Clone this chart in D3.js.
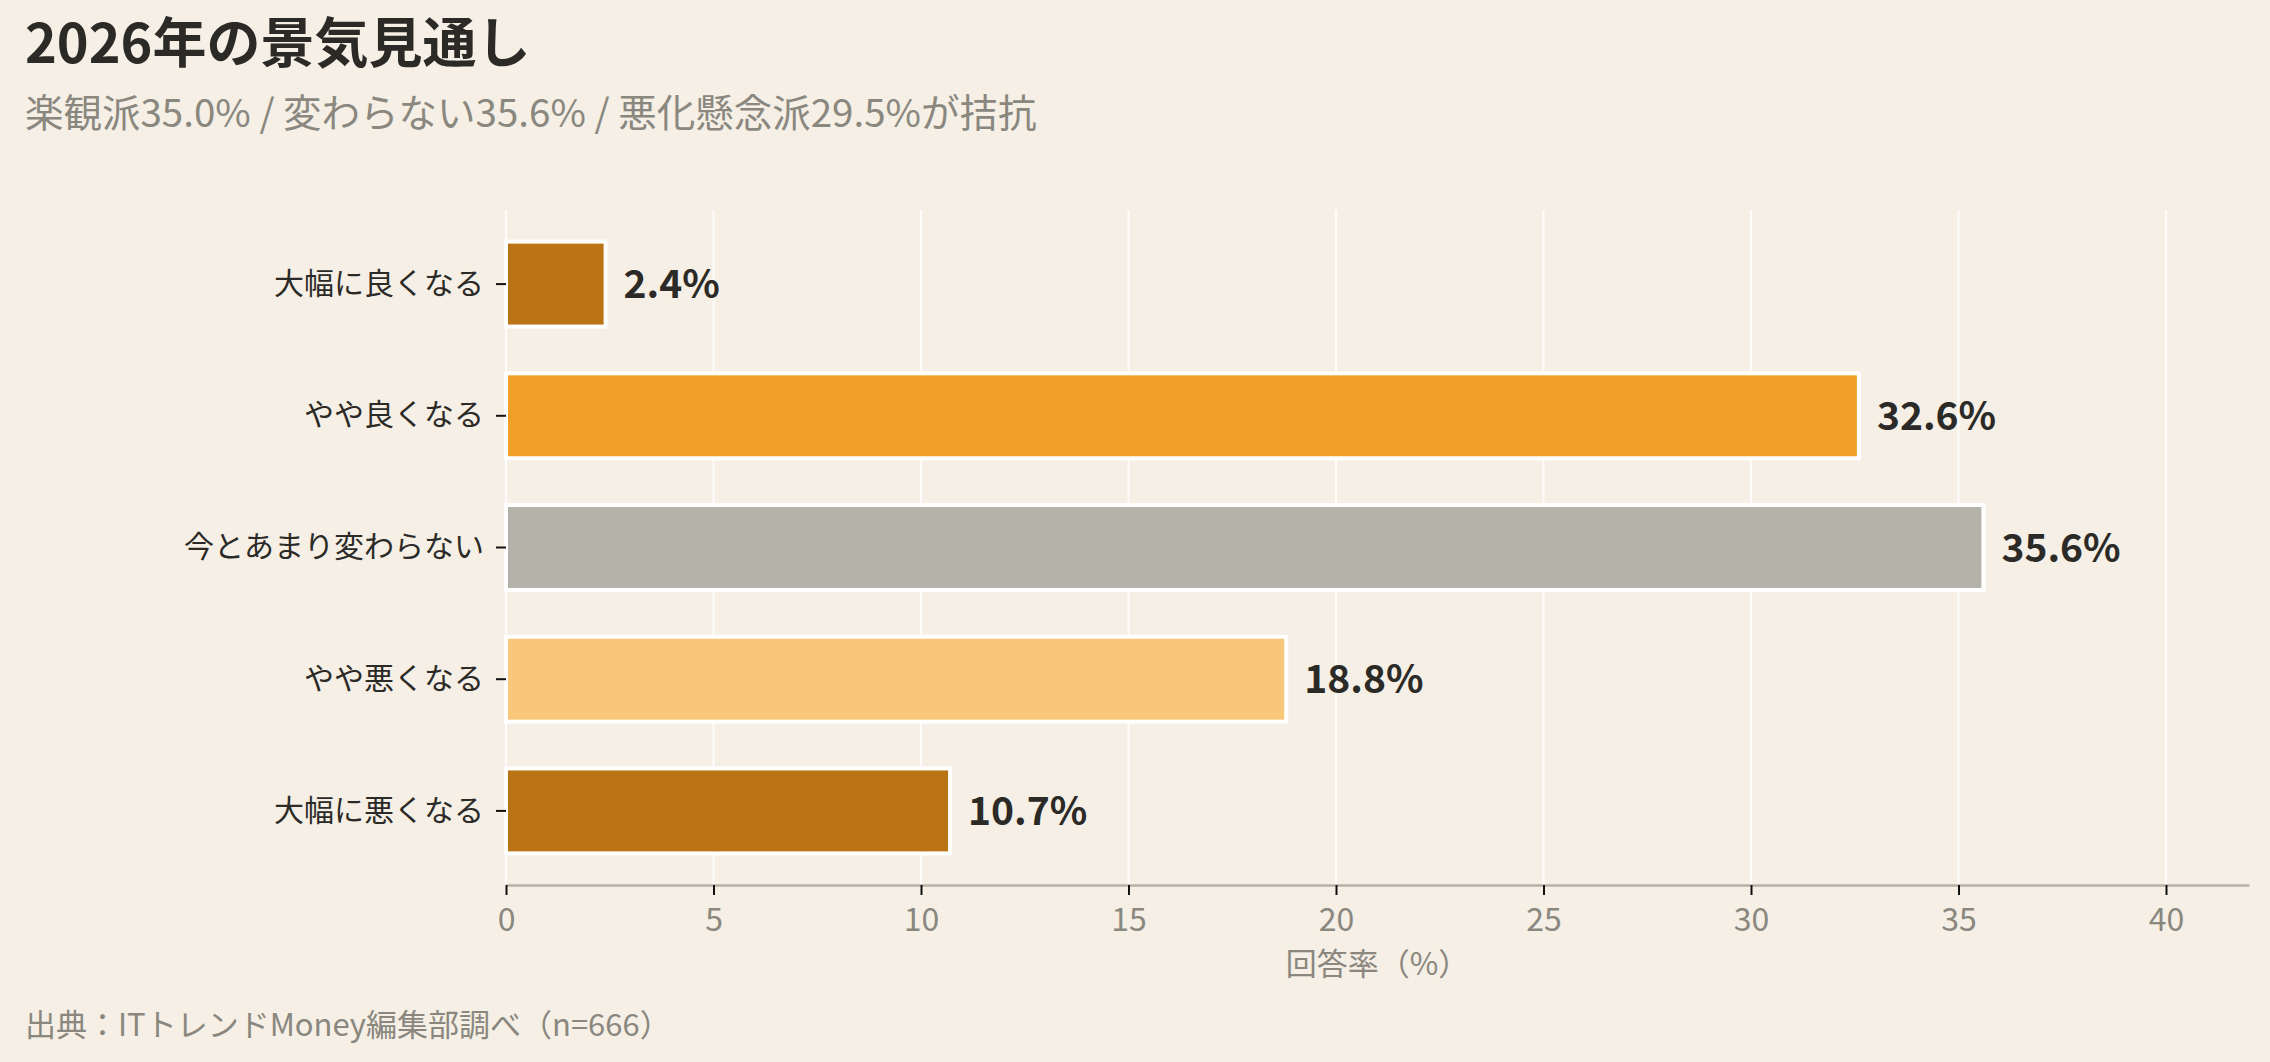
<!DOCTYPE html>
<html>
<head>
<meta charset="utf-8">
<script src="https://cdn.jsdelivr.net/npm/d3@7"></script>
<style>
	body { margin: 0; background: #f5efe5; }
	text { font-family: "Noto Sans CJK JP", "Noto Sans", sans-serif; }
</style>
</head>
<body>
<div id="visDiv"></div>
<script>
(function () {

	// data
	var categories = ['大幅に良くなる', 'やや良くなる', '今とあまり変わらない', 'やや悪くなる', '大幅に悪くなる'],
		values = [2.4, 32.6, 35.6, 18.8, 10.7],
		barColors = ['#bb7415', '#f0a028', '#b5b2aa', '#f9c77a', '#bb7415'],
		xTicks = [0, 5, 10, 15, 20, 25, 30, 35, 40];

	window.onload = function () {

		var W = 2270, H = 1062,
			margin = {top: 210, right: 21, bottom: 177, left: 506},
			w = W - margin.left - margin.right,
			h = H - margin.top - margin.bottom;

		var svg = d3.select('#visDiv')
			.append('svg')
				.attr('width', W)
				.attr('height', H)
				.style('background', '#f5efe5');

		// titles
		svg.append('text')
			.attr('x', 25).attr('y', 63)
			.attr('font-size', 54).attr('font-weight', 700)
			.attr('fill', '#2b2a27')
			.text('2026年の景気見通し');

		svg.append('text')
			.attr('x', 25).attr('y', 127)
			.attr('font-size', 38.5)
			.attr('fill', '#8a877f')
			.text('楽観派35.0% / 変わらない35.6% / 悪化懸念派29.5%が拮抗');

		var all = svg.append('g')
			.attr('transform', 'translate(' + margin.left + ',' + margin.top + ')');

		var x = d3.scaleLinear()
			.domain([0, 42])
			.range([0, w]);

		var y = d3.scaleBand()
			.domain(categories)
			.range([0, h])
			.paddingInner(0.355)
			.paddingOuter(0.24);

		// grid
		all.append('g')
			.selectAll('line')
			.data(xTicks)
			.enter().append('line')
				.attr('x1', function(d) { return x(d); })
				.attr('x2', function(d) { return x(d); })
				.attr('y1', 0)
				.attr('y2', h)
				.attr('stroke', '#ffffff')
				.attr('stroke-opacity', 0.85)
				.attr('stroke-width', 2);

		// bars
		all.append('g')
			.selectAll('rect')
			.data(values)
			.enter().append('rect')
				.attr('x', x(0))
				.attr('y', function(d, i) { return y(categories[i]); })
				.attr('width', function(d) { return x(d) - x(0); })
				.attr('height', y.bandwidth())
				.attr('fill', function(d, i) { return barColors[i]; })
				.attr('stroke', '#ffffff')
				.attr('stroke-width', 4);

		// value labels
		all.append('g')
			.selectAll('text')
			.data(values)
			.enter().append('text')
				.attr('x', function(d) { return x(d) + 18; })
				.attr('y', function(d, i) { return y(categories[i]) + y.bandwidth() / 2; })
				.attr('dy', '0.36em')
				.attr('font-size', 39)
				.attr('font-weight', 700)
				.attr('fill', '#2b2a27')
				.text(function(d) { return d.toFixed(1) + '%'; });

		// x axis
		var xAxis = all.append('g')
			.attr('transform', 'translate(0,' + h + ')')
			.call(d3.axisBottom(x).tickValues(xTicks).tickSize(10).tickPadding(13).tickSizeOuter(0));
		xAxis.select('.domain')
			.attr('stroke', '#b5b2aa')
			.attr('stroke-width', 2.5);
		xAxis.selectAll('.tick line')
			.attr('stroke', '#111')
			.attr('stroke-width', 2);
		xAxis.selectAll('.tick text')
			.attr('font-size', 32)
			.attr('fill', '#8a877f')
			.style('font-family', '"Noto Sans CJK JP", sans-serif');

		// y axis
		var yAxis = all.append('g')
			.call(d3.axisLeft(y).tickSize(10).tickPadding(12));
		yAxis.select('.domain').remove();
		yAxis.selectAll('.tick line')
			.attr('stroke', '#111')
			.attr('stroke-width', 2);
		yAxis.selectAll('.tick text')
			.attr('font-size', 30)
			.attr('fill', '#2b2a27')
			.style('font-family', '"Noto Sans CJK JP", sans-serif');

		// axis title
		svg.append('text')
			.attr('x', margin.left + w / 2)
			.attr('y', 975)
			.attr('text-anchor', 'middle')
			.attr('font-size', 31)
			.attr('fill', '#8a877f')
			.text('回答率（%）');

		// source
		svg.append('text')
			.attr('x', 25).attr('y', 1036)
			.attr('font-size', 31)
			.attr('fill', '#8a877f')
			.text('出典：ITトレンドMoney編集部調べ（n=666）');

	};
}());
</script>
</body>
</html>
